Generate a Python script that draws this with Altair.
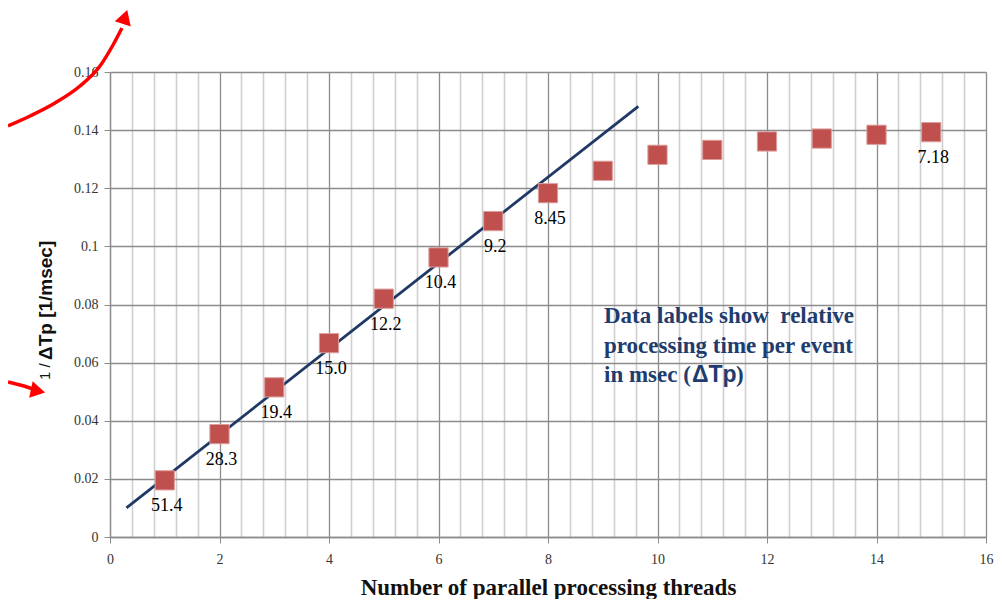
import altair as alt
import pandas as pd

# ---- data ----
threads = [1, 2, 3, 4, 5, 6, 7, 8, 9, 10, 11, 12, 13, 14, 15]
inv_dtp = [0.0195, 0.0354, 0.0515, 0.0667, 0.0820, 0.0962, 0.1087, 0.1183,
           0.1260, 0.1315, 0.1332, 0.1361, 0.1371, 0.1384, 0.1393]
dtp_labels = ["51.4", "28.3", "19.4", "15.0", "12.2", "10.4", "9.2", "8.45",
              "", "", "", "", "", "", "7.18"]

trend_x = [0.3, 9.65]
trend_y = [0.0100, 0.1482]

x_ticks = [round(0.4 * i, 1) for i in range(41)]
y_ticks = [round(0.02 * i, 2) for i in range(9)]

x_title = "Number of parallel processing threads"
y_title_small = "1 /"
y_title_main = "ΔTp [1/msec]"
note_lines = ["Data labels show\u00a0 relative", "processing time per event", "in msec ("]
note_delta = "ΔTp"
note_close = ")"

# decorative red arrows (plot-relative pixels)
arrow1_x = [-102, -80, -55, -30, -10, 3, 12]
arrow1_y = [54, 44, 31, 14, -6, -27, -44]
arrow2_x = [-102, -86, -74]
arrow2_y = [310, 314, 318]

pts = pd.DataFrame({"threads": threads, "inv": inv_dtp, "lab": dtp_labels})
trend = pd.DataFrame({"threads": trend_x, "inv": trend_y})

SERIF = "Liberation Serif"
SANS = "Liberation Sans"
MAJOR = "abs(datum.value/2 - round(datum.value/2)) < 0.001"

xscale = alt.Scale(domain=[0, 16], nice=False, zero=True)
yscale = alt.Scale(domain=[0, 0.16], nice=False, zero=True)

xaxis = alt.Axis(
    values=x_ticks, grid=True,
    gridColor={"condition": {"test": MAJOR, "value": "#8c8c8c"}, "value": "#cfcfcf"},
    gridWidth={"condition": {"test": MAJOR, "value": 1.3}, "value": 1.6},
    tickOpacity={"condition": {"test": MAJOR, "value": 1}, "value": 0},
    tickSize=6, tickColor="#8c8c8c", domainColor="#8c8c8c", domainWidth=1.3,
    labelExpr=MAJOR + " ? format(datum.value, 'd') : ''",
    labelFont=SERIF, labelFontSize=14, labelColor="#333333", labelPadding=9,
    labelOverlap=False, labelFlush=False,
    title=x_title, titleFont=SERIF, titleFontSize=23, titleFontWeight="bold",
    titleColor="#111111", titleY=57, titleBaseline="alphabetic",
)
yaxis = alt.Axis(
    values=y_ticks, grid=True, gridColor="#8c8c8c", gridWidth=1.3,
    tickSize=6, tickColor="#8c8c8c", domainColor="#8c8c8c", domainWidth=1.3,
    labelExpr="format(datum.value, '~g')",
    labelFont=SERIF, labelFontSize=14, labelColor="#333333", labelPadding=6,
    labelOverlap=False, title=None,
)

X = alt.X("threads:Q", scale=xscale, axis=xaxis)
Y = alt.Y("inv:Q", scale=yscale, axis=yaxis)

line = alt.Chart(trend).mark_line(color="#1f3864", strokeWidth=2.8).encode(x=X, y=Y)

points = alt.Chart(pts).mark_square(
    size=370, color="#c0504d", opacity=1, stroke="#dc9e9c", strokeWidth=1
).encode(x=X, y=Y)

labels = alt.Chart(pts).transform_filter("datum.lab != ''").mark_text(
    font=SERIF, fontSize=18, color="#000000", dy=26, dx=2, baseline="middle"
).encode(x=X, y=Y, text="lab:N")

NOTE_SIZE = 23
note_layers = []
for i, t in enumerate(note_lines):
    note_layers.append(
        alt.Chart(pd.DataFrame({"t": [t]})).mark_text(
            font=SERIF, fontSize=NOTE_SIZE, fontWeight="bold", color="#1f3c6e",
            align="left", baseline="alphabetic"
        ).encode(x=alt.value(494), y=alt.value(251 + 29.5 * i), text="t:N")
    )
note_layers.append(
    alt.Chart(pd.DataFrame({"t": [note_delta]})).mark_text(
        font=SANS, fontSize=23, fontWeight="bold", color="#1f3c6e",
        align="left", baseline="alphabetic"
    ).encode(x=alt.value(582), y=alt.value(310), text="t:N")
)
note_layers.append(
    alt.Chart(pd.DataFrame({"t": [note_close]})).mark_text(
        font=SERIF, fontSize=NOTE_SIZE, fontWeight="bold", color="#1f3c6e",
        align="left", baseline="alphabetic"
    ).encode(x=alt.value(626), y=alt.value(310), text="t:N")
)

ytitle1 = alt.Chart(pd.DataFrame({"t": [y_title_small]})).mark_text(
    font=SANS, fontSize=15, color="#111111", angle=270, align="left", baseline="middle"
).encode(x=alt.value(-65), y=alt.value(308), text="t:N")
ytitle2 = alt.Chart(pd.DataFrame({"t": [y_title_main]})).mark_text(
    font=SANS, fontSize=19, fontWeight="bold", color="#111111", angle=270,
    align="left", baseline="middle"
).encode(x=alt.value(-64), y=alt.value(288), text="t:N")

a1 = pd.DataFrame({"px": arrow1_x, "py": arrow1_y, "i": list(range(len(arrow1_x)))})
a2 = pd.DataFrame({"px": arrow2_x, "py": arrow2_y, "i": list(range(len(arrow2_x)))})
arrow1 = alt.Chart(a1).mark_line(color="#ff0000", strokeWidth=3.5, interpolate="monotone").encode(
    x=alt.X("px:Q", scale=None), y=alt.Y("py:Q", scale=None), order="i:Q")
arrow2 = alt.Chart(a2).mark_line(color="#ff0000", strokeWidth=3.5).encode(
    x=alt.X("px:Q", scale=None), y=alt.Y("py:Q", scale=None), order="i:Q")
head1 = alt.Chart(pd.DataFrame({"t": [0]})).mark_point(
    shape="triangle-up", filled=True, color="#ff0000", opacity=1, size=280, angle=18
).encode(x=alt.value(15), y=alt.value(-55))
head2 = alt.Chart(pd.DataFrame({"t": [0]})).mark_point(
    shape="triangle-right", filled=True, color="#ff0000", opacity=1, size=280, angle=12
).encode(x=alt.value(-72), y=alt.value(319))

chart = alt.layer(
    line, points, labels, *note_layers, ytitle1, ytitle2, arrow1, arrow2, head1, head2
).properties(
    width=876, height=465,
    autosize=alt.AutoSizeParams(type="none"),
    padding={"left": 102, "top": 64, "right": 8, "bottom": 62},
    background="white",
).configure_view(stroke=None)

chart.save("out.html", embed_options={"renderer": "svg", "actions": False})
